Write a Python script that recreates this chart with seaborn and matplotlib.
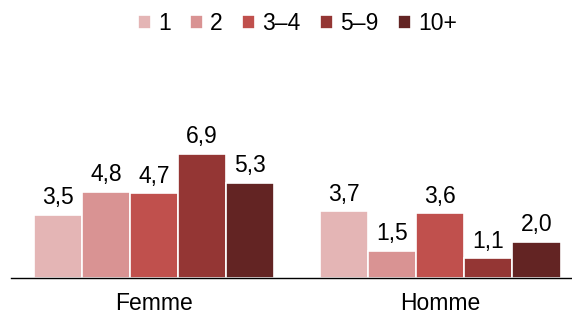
import matplotlib.pyplot as plt
import seaborn as sns
import pandas as pd

# data
sexes = ["Femme", "Homme"]
groups = ["1", "2", "3–4", "5–9", "10+"]
femme = [3.5, 4.8, 4.7, 6.9, 5.3]
homme = [3.7, 1.5, 3.6, 1.1, 2.0]
colors = ["#E4B5B5", "#D99393", "#C0504D", "#943634", "#632423"]

df = pd.DataFrame({
    "sexe": [s for s in sexes for _ in groups],
    "groupe": groups * 2,
    "valeur": femme + homme,
})

sns.set_style("white")
plt.rcParams["font.family"] = ["Liberation Sans", "DejaVu Sans"]
plt.rcParams["text.color"] = "black"
plt.rcParams["xtick.color"] = "black"

fig = plt.figure(figsize=(5.72, 3.16), dpi=100)
ax = fig.add_axes([11 / 572, 38 / 316, 561 / 572, 216 / 316])

sns.barplot(
    data=df, x="sexe", y="valeur", hue="groupe", hue_order=groups,
    palette=colors, width=0.84, edgecolor="white", linewidth=1.2,
    saturation=1, ax=ax, legend=True,
)

for c in ax.containers:
    ax.bar_label(c, labels=[f"{v:.1f}".replace(".", ",") for v in c.datavalues],
                 padding=4, fontsize=16.5, color="black")

ax.set_ylim(0, 12)
ax.set_xlim(-0.5, 1.46)
ax.set_xlabel("")
ax.set_ylabel("")
ax.set_yticks([])
for s in ["top", "right", "left"]:
    ax.spines[s].set_visible(False)
ax.spines["bottom"].set_color("black")
ax.spines["bottom"].set_linewidth(1)
ax.tick_params(axis="x", length=0, labelsize=16.5, pad=10, labelcolor="black")

ax.legend(
    loc="center", bbox_to_anchor=(0.52, 1 - 24 / 316), bbox_transform=fig.transFigure,
    ncol=5, frameon=False, fontsize=16.5, handlelength=0.57, handleheight=0.57,
    handletextpad=0.3, columnspacing=0.85,
)

plt.savefig("out.png", dpi=100)
plt.close()
